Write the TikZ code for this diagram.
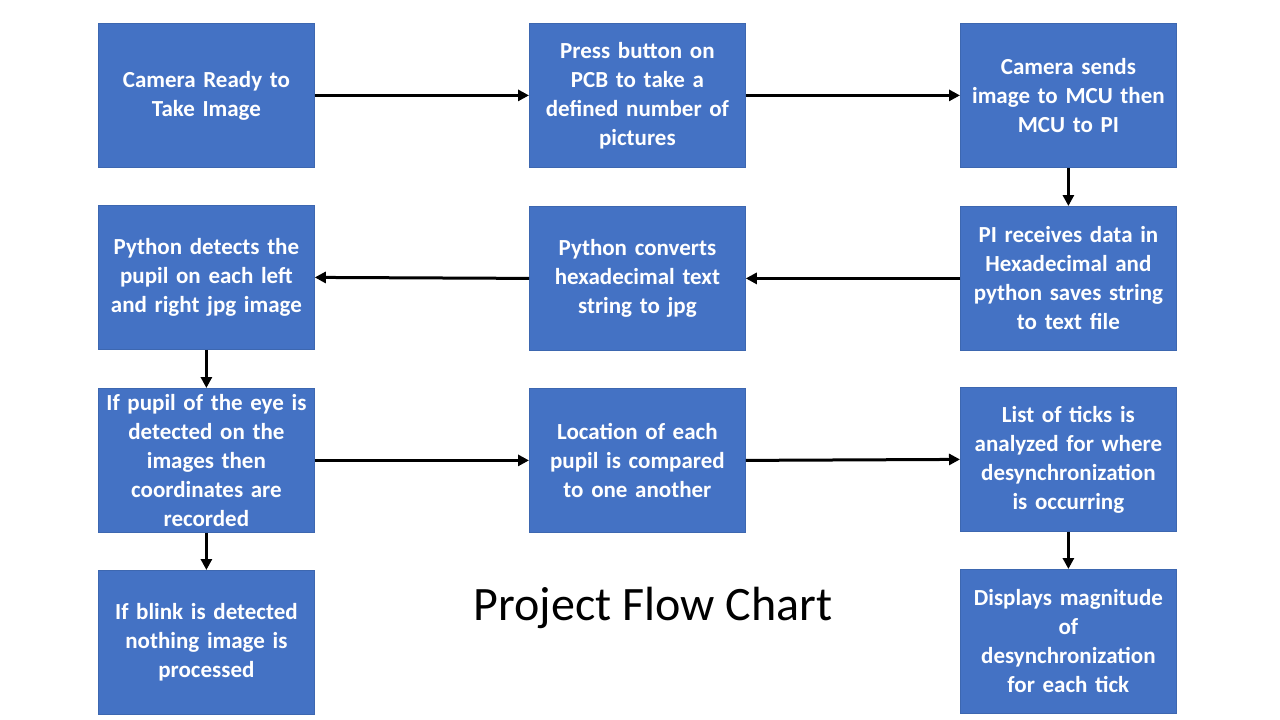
\documentclass[tikz,border=0pt]{standalone}
\usepackage{fontspec}
\setmainfont{Carlito}
\usetikzlibrary{arrows.meta}
\definecolor{boxblue}{HTML}{4472C4}
\begin{document}
\begin{tikzpicture}[x=1pt,y=-1pt,
  flowbox/.style={fill=boxblue, draw=boxblue!90!black, line width=0.8pt, minimum width=216pt, minimum height=144pt, text width=214pt, align=center, text=white, font=\fontsize{23}{29}\selectfont\bfseries, inner sep=0pt, anchor=north west},
  flowarrow/.style={line width=3pt, -{Triangle[length=11pt,width=11pt]}}]
\useasboundingbox (0,0) rectangle (1280,720);
\fill[white] (0,0) rectangle (1280,720);
\node[flowbox] (b1) at (98,23) {Camera Ready to\\Take Image};
\node[flowbox] (b2) at (529,23) {Press button on\\PCB to take a\\defined number of\\pictures};
\node[flowbox] (b3) at (960,23) {Camera sends\\image to MCU then\\MCU to PI};
\node[flowbox] (b4) at (98,205) {Python detects the\\pupil on each left\\and right jpg image};
\node[flowbox] (b5) at (529,206) {Python converts\\hexadecimal text\\string to jpg};
\node[flowbox] (b6) at (960,206) {PI receives data in\\Hexadecimal and\\python saves string\\to text file};
\node[flowbox] (b7) at (98,388) {If pupil of the eye is\\detected on the\\images then\\coordinates are\\recorded};
\node[flowbox] (b8) at (529,388) {Location of each\\pupil is compared\\to one another};
\node[flowbox] (b9) at (960,387) {List of ticks is\\analyzed for where\\desynchronization\\is occurring};
\node[flowbox] (b10) at (98,570) {If blink is detected\\nothing image is\\processed};
\node[flowbox] (b11) at (960,569) {Displays magnitude\\of\\desynchronization\\for each tick};
\node[font=\fontsize{48}{58}\selectfont] (title) at (653,608) {Project Flow Chart};
\draw[flowarrow] (b1.east) -- (b2.west);
\draw[flowarrow] (b2.east) -- (b3.west);
\draw[flowarrow] (b3.south) -- (b6.north);
\draw[flowarrow] (b6.west) -- (b5.east);
\draw[flowarrow] (b5.west) -- (b4.east);
\draw[flowarrow] (b4.south) -- (b7.north);
\draw[flowarrow] (b7.east) -- (b8.west);
\draw[flowarrow] (b8.east) -- (b9.west);
\draw[flowarrow] (b7.south) -- (b10.north);
\draw[flowarrow] (b9.south) -- (b11.north);
\end{tikzpicture}
\end{document}
